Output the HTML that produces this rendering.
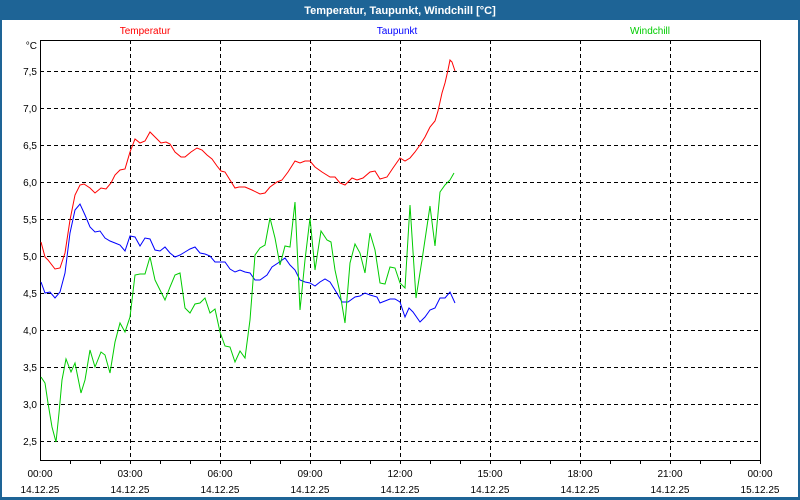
<!DOCTYPE html>
<html><head><meta charset="utf-8"><style>
html,body{margin:0;padding:0;background:#fff}
svg{display:block;font-family:"Liberation Sans",sans-serif}
</style></head><body>
<svg width="800" height="500" viewBox="0 0 800 500" xmlns="http://www.w3.org/2000/svg">
<rect x="0" y="0" width="800" height="500" fill="#1e6496"/>
<rect x="2" y="20" width="796" height="477" fill="#fff"/>
<text x="400" y="14" fill="#fff" font-size="11" font-weight="bold" text-anchor="middle">Temperatur, Taupunkt, Windchill [°C]</text>
<text x="145" y="34" fill="#ff0000" font-size="10" text-anchor="middle">Temperatur</text>
<text x="397" y="34" fill="#0000ff" font-size="10" text-anchor="middle">Taupunkt</text>
<text x="650" y="34" fill="#00cc00" font-size="10" text-anchor="middle">Windchill</text>
<g stroke="#000" stroke-width="1" stroke-dasharray="4,3" shape-rendering="crispEdges">
<line x1="40" y1="71.5" x2="760" y2="71.5"/><line x1="40" y1="108.5" x2="760" y2="108.5"/>
<line x1="40" y1="145.5" x2="760" y2="145.5"/><line x1="40" y1="182.5" x2="760" y2="182.5"/>
<line x1="40" y1="219.5" x2="760" y2="219.5"/><line x1="40" y1="256.5" x2="760" y2="256.5"/>
<line x1="40" y1="293.5" x2="760" y2="293.5"/><line x1="40" y1="330.5" x2="760" y2="330.5"/>
<line x1="40" y1="367.5" x2="760" y2="367.5"/><line x1="40" y1="404.5" x2="760" y2="404.5"/>
<line x1="40" y1="441.5" x2="760" y2="441.5"/>
<line x1="130.5" y1="40" x2="130.5" y2="460"/><line x1="220.5" y1="40" x2="220.5" y2="460"/>
<line x1="310.5" y1="40" x2="310.5" y2="460"/><line x1="400.5" y1="40" x2="400.5" y2="460"/>
<line x1="490.5" y1="40" x2="490.5" y2="460"/><line x1="580.5" y1="40" x2="580.5" y2="460"/>
<line x1="670.5" y1="40" x2="670.5" y2="460"/>
</g>
<rect x="40.5" y="40.5" width="720" height="420" fill="none" stroke="#000" shape-rendering="crispEdges"/>
<g stroke="#000" shape-rendering="crispEdges">
<line x1="70.5" y1="460" x2="70.5" y2="464"/><line x1="100.5" y1="460" x2="100.5" y2="464"/><line x1="130.5" y1="460" x2="130.5" y2="464"/>
<line x1="160.5" y1="460" x2="160.5" y2="464"/><line x1="190.5" y1="460" x2="190.5" y2="464"/><line x1="220.5" y1="460" x2="220.5" y2="464"/>
<line x1="250.5" y1="460" x2="250.5" y2="464"/><line x1="280.5" y1="460" x2="280.5" y2="464"/><line x1="310.5" y1="460" x2="310.5" y2="464"/>
<line x1="340.5" y1="460" x2="340.5" y2="464"/><line x1="370.5" y1="460" x2="370.5" y2="464"/><line x1="400.5" y1="460" x2="400.5" y2="464"/>
<line x1="430.5" y1="460" x2="430.5" y2="464"/><line x1="460.5" y1="460" x2="460.5" y2="464"/><line x1="490.5" y1="460" x2="490.5" y2="464"/>
<line x1="520.5" y1="460" x2="520.5" y2="464"/><line x1="550.5" y1="460" x2="550.5" y2="464"/><line x1="580.5" y1="460" x2="580.5" y2="464"/>
<line x1="610.5" y1="460" x2="610.5" y2="464"/><line x1="640.5" y1="460" x2="640.5" y2="464"/><line x1="670.5" y1="460" x2="670.5" y2="464"/>
<line x1="700.5" y1="460" x2="700.5" y2="464"/><line x1="730.5" y1="460" x2="730.5" y2="464"/><line x1="760.5" y1="460" x2="760.5" y2="464"/>
</g>
<g font-size="10" fill="#000" text-anchor="end">
<text x="37" y="49">°C</text>
<text x="37" y="75">7,5</text><text x="37" y="112">7,0</text><text x="37" y="149">6,5</text>
<text x="37" y="186">6,0</text><text x="37" y="223">5,5</text><text x="37" y="260">5,0</text>
<text x="37" y="297">4,5</text><text x="37" y="334">4,0</text><text x="37" y="371">3,5</text>
<text x="37" y="408">3,0</text><text x="37" y="445">2,5</text>
</g>
<g font-size="10" fill="#000" text-anchor="middle">
<text x="40" y="477">00:00</text><text x="40" y="493">14.12.25</text>
<text x="130" y="477">03:00</text><text x="130" y="493">14.12.25</text>
<text x="220" y="477">06:00</text><text x="220" y="493">14.12.25</text>
<text x="310" y="477">09:00</text><text x="310" y="493">14.12.25</text>
<text x="400" y="477">12:00</text><text x="400" y="493">14.12.25</text>
<text x="490" y="477">15:00</text><text x="490" y="493">14.12.25</text>
<text x="580" y="477">18:00</text><text x="580" y="493">14.12.25</text>
<text x="670" y="477">21:00</text><text x="670" y="493">14.12.25</text>
<text x="760" y="477">00:00</text><text x="760" y="493">15.12.25</text>
</g>
<g fill="none" stroke-width="1">
<polyline stroke="#ff0000" points="41,242 45,257 48,260 55,269 60,268 65,253 70,220 75,195 80,185 84,184 90,188 95,193 101,188 106,189 111,183 115,175 120,170 125,169 130,152 135,139 140,143 145,141 150,132 155,137 161,143 166,142 170,144 175,152 181,157 185,157 191,152 197,148 202,150 207,155 212,159 217,166 221,171 225,172 230,180 235,188 239,187 245,187 252,190 260,194 265,193 270,187 277,182 282,180 288,172 295,161 300,163 305,161 310,161 315,167 322,172 330,177 335,177 340,183 345,185 352,178 357,180 363,178 370,172 375,171 380,179 387,177 393,168 400,158 405,161 410,158 415,152 420,145 425,137 430,127 435,121 438,111 442,93 445,83 448,70 450,60 452,62 455,71"/>
<polyline stroke="#0000ff" points="41,282 45,293 50,292 55,298 60,292 65,273 70,233 75,210 80,204 85,215 90,227 95,232 100,231 105,238 110,241 115,243 120,245 125,251 130,236 135,237 140,246 145,238 150,239 155,250 160,251 165,247 170,253 175,257 180,255 185,252 190,249 195,247 200,253 205,254 210,256 215,262 220,262 225,262 230,269 235,272 240,270 245,272 250,273 255,280 260,280 267,275 272,267 278,263 285,258 290,265 295,270 300,280 305,282 310,283 315,286 320,282 325,279 330,282 335,290 342,302 348,302 355,297 360,296 365,293 370,295 377,297 380,303 385,301 390,299 395,299 400,302 405,317 409,308 413,312 420,322 425,317 430,310 435,308 440,298 445,298 450,292 455,303"/>
<polyline stroke="#00cc00" points="41,377 45,383 48,403 52,427 56,442 59,413 62,380 66,359 71,372 75,363 81,393 85,380 90,350 95,367 101,352 105,355 110,373 115,342 120,323 125,332 130,317 135,275 140,274 145,274 150,257 155,280 160,290 165,300 170,287 175,275 180,273 185,308 190,313 195,304 200,303 205,298 210,313 215,309 220,332 225,346 230,347 235,362 240,351 245,358 250,320 255,255 260,248 265,245 270,218 275,238 280,265 285,246 290,247 295,202 300,310 305,260 310,218 315,270 321,231 327,240 331,242 335,270 340,293 345,323 350,263 355,244 360,253 365,273 370,233 375,250 380,283 385,284 390,267 395,268 400,283 405,288 410,205 416,298 422,260 430,206 435,246 440,192 445,185 450,180 454,173"/>
</g>
</svg>
</body></html>
